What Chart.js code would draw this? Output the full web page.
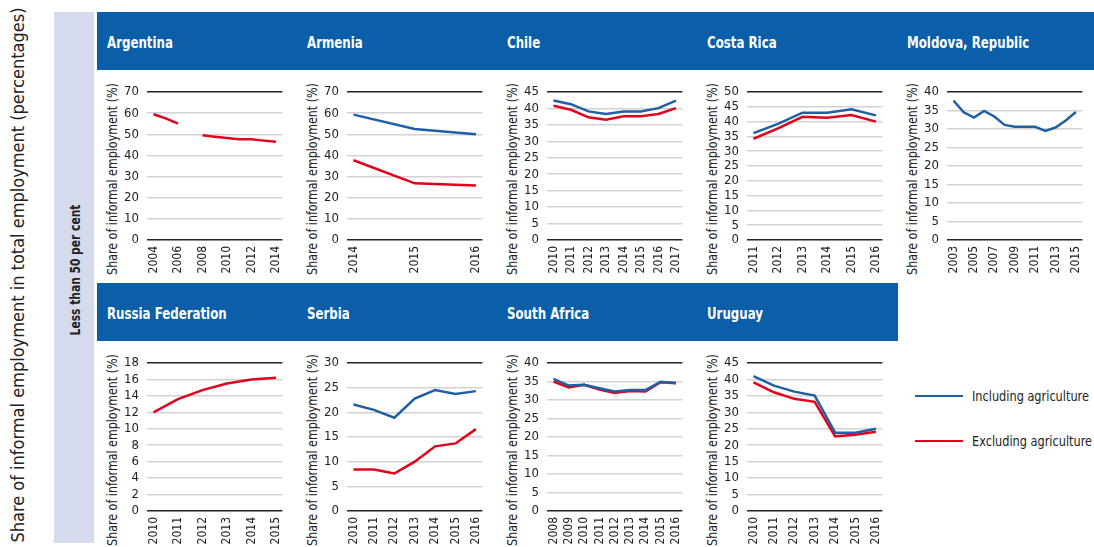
<!DOCTYPE html>
<html>
<head>
<meta charset="utf-8">
<script src="https://cdn.jsdelivr.net/npm/chart.js@4.4.1/dist/chart.umd.min.js"></script>
<style>
  body { margin: 0; width: 1094px; height: 547px; position: relative; overflow: hidden; background: #fff;
         font-family: 'Liberation Sans Narrow', 'DejaVu Sans Condensed', sans-serif; color: #222; }
  .band { position: absolute; left: 97px; height: 58px; background: #0a5fa8; }
  .ptitle { position: absolute; color: #fff; font-weight: bold; font-size: 16px; line-height: 18px;
            white-space: nowrap; transform: scaleX(0.82); transform-origin: left center; }
  canvas { position: absolute; }
  #side { position: absolute; left: 54px; top: 12px; width: 40px; height: 531px; background: #d5daec; }
  .vtext { position: absolute; white-space: nowrap; transform: translate(-50%, -50%) rotate(-90deg); }
  .ytitle { position: absolute; white-space: nowrap; font-size: 14px;
            transform: translate(-50%, -50%) rotate(-90deg) scaleX(0.88); }
  .leg { position: absolute; left: 915px; width: 48px; height: 2px; }
  .legt { position: absolute; left: 972px; font-size: 14px; line-height: 16px; white-space: nowrap;
          transform: scaleX(0.9); transform-origin: left center; }
</style>
</head>
<body>
<div class="vtext" style="left:17px;top:275px;font-size:18px;">Share of informal employment in total employment (percentages)</div>
<div id="side"></div>
<div class="vtext" style="left:75px;top:270px;font-size:14px;font-weight:bold;transform:translate(-50%,-50%) rotate(-90deg) scaleX(0.85);">Less than 50 per cent</div>
<div class="band" style="top:12px;width:997px;"></div>
<div class="band" style="top:283px;width:801px;"></div>
<div class="leg" style="top:395px;background:#1f5fa6;"></div>
<div class="legt" style="top:388px;">Including agriculture</div>
<div class="leg" style="top:440px;background:#e2001a;"></div>
<div class="legt" style="top:433px;">Excluding agriculture</div>

<script>
const BLUE = '#1f5fa6';
const RED = '#e2001a';

// Argentina
const argYears = [2004, 2005, 2006, 2007, 2008, 2009, 2010, 2011, 2012, 2013, 2014];
const argExcl = [59.5, 57.5, 55, null, 49.5, 48.8, 48.2, 47.6, 47.6, 47, 46.5];
const argTicks = [2004, 2006, 2008, 2010, 2012, 2014];

// Armenia
const armYears = [2014, 2015, 2016];
const armIncl = [59.3, 52.5, 50];
const armExcl = [37.7, 26.8, 25.8];

// Chile
const chlYears = [2010, 2011, 2012, 2013, 2014, 2015, 2016, 2017];
const chlIncl = [42.4, 41.3, 39.1, 38.3, 39.1, 39.1, 40.1, 42.4];
const chlExcl = [40.8, 39.6, 37.3, 36.6, 37.6, 37.6, 38.3, 40.1];

// Costa Rica
const criYears = [2011, 2012, 2013, 2014, 2015, 2016];
const criIncl = [36.1, 39.2, 43, 43, 44.2, 42.1];
const criExcl = [34.2, 37.7, 41.6, 41.3, 42.2, 40];

// Moldova, Republic
const mdaYears = [2003, 2004, 2005, 2006, 2007, 2008, 2009, 2010, 2011, 2012, 2013, 2014, 2015];
const mdaIncl = [37.7, 34.5, 33.1, 34.9, 33.4, 31.1, 30.6, 30.6, 30.6, 29.5, 30.4, 32.3, 34.6];
const mdaTicks = [2003, 2005, 2007, 2009, 2011, 2013, 2015];

// Russia Federation
const rusYears = [2010, 2011, 2012, 2013, 2014, 2015];
const rusExcl = [12, 13.6, 14.7, 15.5, 16, 16.2];

// Serbia
const srbYears = [2010, 2011, 2012, 2013, 2014, 2015, 2016];
const srbIncl = [21.6, 20.5, 18.9, 22.8, 24.5, 23.7, 24.3];
const srbExcl = [8.4, 8.4, 7.6, 10, 13.1, 13.7, 16.6];

// South Africa
const zafYears = [2008, 2009, 2010, 2011, 2012, 2013, 2014, 2015, 2016];
const zafIncl = [35.7, 33.9, 34.1, 33.2, 32.3, 32.7, 32.7, 34.9, 34.6];
const zafExcl = [35, 33.4, 34.1, 32.8, 31.9, 32.4, 32.3, 34.8, 34.5];

// Uruguay
const uryYears = [2010, 2011, 2012, 2013, 2014, 2015, 2016];
const uryIncl = [41, 38.1, 36.3, 35.1, 23.8, 23.8, 25];
const uryExcl = [39.1, 36.1, 34.1, 33.2, 22.7, 23.2, 24.1];

const panels = [
  { name: 'Argentina', years: argYears, ticks: argTicks, max: 70, step: 10, series: [[argExcl, RED]] },
  { name: 'Armenia', years: armYears, ticks: armYears, max: 70, step: 10, series: [[armIncl, BLUE], [armExcl, RED]] },
  { name: 'Chile', years: chlYears, ticks: chlYears, max: 45, step: 5, series: [[chlIncl, BLUE], [chlExcl, RED]] },
  { name: 'Costa Rica', years: criYears, ticks: criYears, max: 50, step: 5, series: [[criIncl, BLUE], [criExcl, RED]] },
  { name: 'Moldova, Republic', years: mdaYears, ticks: mdaTicks, max: 40, step: 5, series: [[mdaIncl, BLUE]] },
  { name: 'Russia Federation', years: rusYears, ticks: rusYears, max: 18, step: 2, series: [[rusExcl, RED]] },
  { name: 'Serbia', years: srbYears, ticks: srbYears, max: 30, step: 5, series: [[srbIncl, BLUE], [srbExcl, RED]] },
  { name: 'South Africa', years: zafYears, ticks: zafYears, max: 40, step: 5, series: [[zafIncl, BLUE], [zafExcl, RED]] },
  { name: 'Uruguay', years: uryYears, ticks: uryYears, max: 45, step: 5, series: [[uryIncl, BLUE], [uryExcl, RED]] }
];

Chart.defaults.font.family = "'Liberation Sans Narrow', 'DejaVu Sans Condensed', sans-serif";
Chart.defaults.color = '#222';

panels.forEach((p, i) => {
  const row = i < 5 ? 0 : 1;
  const col = i % 5;
  const left = 97 + col * 200;
  const top = row === 0 ? 71 : 342;

  const t = document.createElement('div');
  t.className = 'ptitle';
  t.style.left = (left + 10) + 'px';
  t.style.top = (top - 37) + 'px';
  t.textContent = p.name;
  document.body.appendChild(t);

  const yt = document.createElement('div');
  yt.className = 'ytitle';
  yt.style.left = (left + 15) + 'px';
  yt.style.top = (top + 108) + 'px';
  yt.textContent = 'Share of informal employment (%)';
  document.body.appendChild(yt);

  const canvas = document.createElement('canvas');
  canvas.width = 200;
  canvas.height = 205;
  canvas.style.left = left + 'px';
  canvas.style.top = top + 'px';
  document.body.appendChild(canvas);

  const first = p.years[0], last = p.years[p.years.length - 1];
  const pad = (last - first) * 0.053;

  new Chart(canvas, {
    type: 'line',
    data: {
      datasets: p.series.map(([vals, color]) => ({
        data: p.years.map((y, k) => ({ x: y, y: vals[k] })),
        borderColor: color,
        borderWidth: 2.5,
        pointRadius: 0,
        tension: 0,
        spanGaps: false
      }))
    },
    options: {
      responsive: false,
      animation: false,
      layout: { padding: { left: 8, right: 14, top: 21, bottom: 0 } },
      plugins: { legend: { display: false }, tooltip: { enabled: false } },
      scales: {
        x: {
          type: 'linear',
          min: first - pad,
          max: last + pad,
          afterBuildTicks: sc => { sc.ticks = p.ticks.map(v => ({ value: v })); },
          afterFit: sc => { sc.height = 36; },
          ticks: { minRotation: 90, maxRotation: 90, autoSkip: false, padding: 6,
                   font: { size: 12 }, callback: v => String(v) },
          grid: { display: false, drawTicks: false },
          border: { display: false }
        },
        y: {
          min: 0,
          max: p.max,
          afterFit: sc => { sc.width = 42; },
          ticks: { stepSize: p.step, autoSkip: false, padding: 8, font: { size: 13 } },
          grid: {
            drawTicks: false,
            lineWidth: 1.5,
            color: c => (c.tick.value === 0 || c.tick.value === p.max) ? '#222' : '#d2d2d2'
          },
          border: { display: false }
        }
      }
    }
  });
});
</script>
</body>
</html>
